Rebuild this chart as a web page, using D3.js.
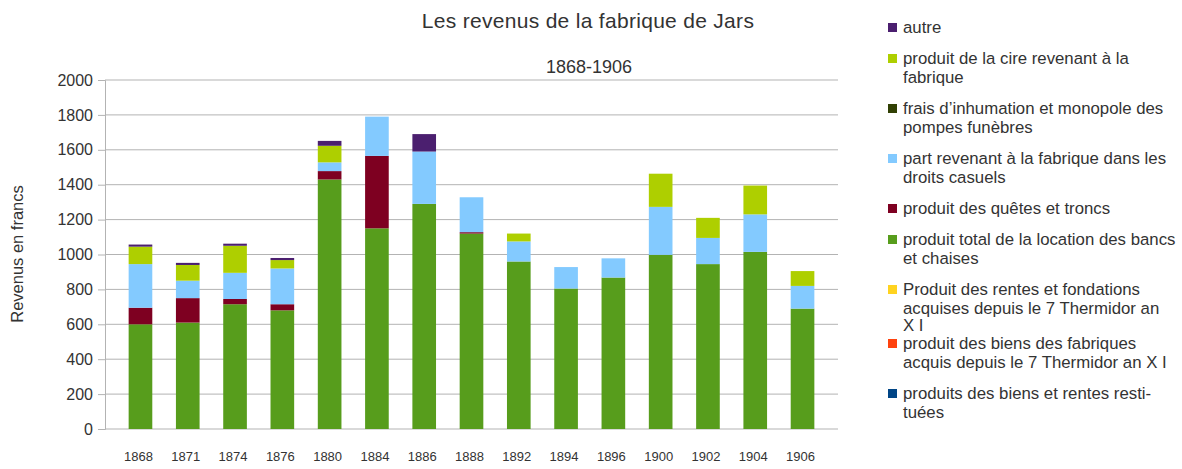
<!DOCTYPE html>
<html>
<head>
<meta charset="utf-8">
<script src="https://cdn.jsdelivr.net/npm/d3@7"></script>
<style>
  body { margin: 0; background: #fff; }
  text { font-family: "Liberation Sans", Arial, sans-serif; fill: #333; }
</style>
</head>
<body>
<svg id="chart"></svg>
<script>
const width = 1182, height = 469;

// data
const years = ["1868","1871","1874","1876","1880","1884","1886","1888","1892","1894","1896","1900","1902","1904","1906"];
const restituees  = [0,0,0,0,0,0,0,0,0,0,0,0,0,0,0];
const biensFabr   = [0,0,0,0,0,0,0,0,0,0,0,0,0,0,0];
const rentes      = [0,0,0,0,0,0,0,0,0,0,0,0,0,0,0];
const bancs       = [600,610,715,680,1430,1150,1290,1120,960,805,868,998,945,1015,690];
const quetes      = [95,140,30,35,48,415,0,8,0,0,0,0,0,0,0];
const casuel      = [250,100,150,205,50,225,300,200,115,123,110,275,150,215,130];
const inhumation  = [0,0,0,0,0,0,0,0,0,0,0,0,0,0,0];
const cire        = [100,90,155,48,95,0,0,0,45,0,0,190,115,165,85];
const autre       = [12,12,12,12,28,0,100,0,0,0,0,0,0,0,0];
const yTicks = [0,200,400,600,800,1000,1200,1400,1600,1800,2000];

const keys = ["restituees","biensFabr","rentes","bancs","quetes","casuel","inhumation","cire","autre"];
const series = {restituees, biensFabr, rentes, bancs, quetes, casuel, inhumation, cire, autre};
const labels = {
  autre: ["autre"],
  cire: ["produit de la cire revenant à la", "fabrique"],
  inhumation: ["frais d’inhumation et monopole des", "pompes funèbres"],
  casuel: ["part revenant à la fabrique dans les", "droits casuels"],
  quetes: ["produit des quêtes et troncs"],
  bancs: ["produit total de la location des bancs", "et chaises"],
  rentes: ["Produit des rentes et fondations", "acquises depuis le 7 Thermidor an", "X I"],
  biensFabr: ["produit des biens des fabriques", "acquis depuis le 7 Thermidor an X I"],
  restituees: ["produits des biens et rentes resti-", "tuées"]
};
const colors = d3.scaleOrdinal()
  .domain(keys)
  .range(["#004586","#ff420e","#ffd320","#579d1c","#7e0021","#83caff","#314004","#aecf00","#4b1f6f"]);

const table = years.map((y, i) => {
  const row = {year: y};
  keys.forEach(k => row[k] = series[k][i]);
  return row;
});

const svg = d3.select("#chart").attr("width", width).attr("height", height);
svg.append("rect").attr("width", width).attr("height", height).attr("fill", "#fff");

const margin = {left: 105, right: 344, top: 80, bottom: 40};
const x = d3.scaleBand().domain(years).range([margin.left, width - margin.right]).padding(0.5);
const y = d3.scaleLinear().domain([0, 2000]).range([height - margin.bottom, margin.top]);

// grid
svg.append("g")
  .selectAll("line")
  .data(yTicks)
  .join("line")
  .attr("x1", margin.left).attr("x2", width - margin.right)
  .attr("y1", d => y(d)).attr("y2", d => y(d))
  .attr("stroke", "#b3b3b3").attr("stroke-width", 1);

// bars
const stacked = d3.stack().keys(keys)(table);
svg.append("g")
  .selectAll("g")
  .data(stacked)
  .join("g")
  .attr("fill", d => colors(d.key))
  .selectAll("rect")
  .data(d => d.filter(s => s[1] > s[0]))
  .join("rect")
  .attr("x", d => x(d.data.year))
  .attr("width", x.bandwidth())
  .attr("y", d => y(d[1]))
  .attr("height", d => y(d[0]) - y(d[1]));

// y axis
const yAxis = svg.append("g")
  .attr("transform", `translate(${margin.left},0)`)
  .call(d3.axisLeft(y).tickValues(yTicks).tickFormat(d3.format("d")).tickSize(7).tickPadding(5));
yAxis.select(".domain").attr("stroke", "#b3b3b3");
yAxis.selectAll(".tick line").attr("stroke", "#b3b3b3");
yAxis.selectAll(".tick text").attr("font-size", 16).attr("fill", "#333")
  .attr("font-family", "Liberation Sans, Arial, sans-serif");

// x labels
svg.append("g")
  .selectAll("text")
  .data(years)
  .join("text")
  .attr("x", d => x(d) + x.bandwidth() / 2 - 2)
  .attr("y", 461)
  .attr("text-anchor", "middle")
  .attr("font-size", 13)
  .text(d => d);

// titles
svg.append("text").attr("x", 588).attr("y", 28).attr("text-anchor", "middle")
  .attr("font-size", 21).attr("letter-spacing", 0.3).text("Les revenus de la fabrique de Jars");
svg.append("text").attr("x", 589).attr("y", 73).attr("text-anchor", "middle")
  .attr("font-size", 18).text("1868-1906");
svg.append("text")
  .attr("transform", "translate(23,254) rotate(-90)")
  .attr("text-anchor", "middle")
  .attr("font-size", 16.5)
  .text("Revenus en francs");

// legend (top to bottom, reverse of stacking)
const legendKeys = keys.slice().reverse();
let rowY = 27;
const legendRows = legendKeys.map(k => {
  const r = {key: k, y: rowY};
  const n = labels[k].length;
  rowY += n == 1 ? 31 : (n == 2 ? 50 : 54);
  return r;
});
const legend = svg.append("g").attr("transform", "translate(888,0)");
const item = legend.selectAll("g")
  .data(legendRows)
  .join("g")
  .attr("transform", d => `translate(0,${d.y})`);
item.append("rect")
  .attr("x", 0).attr("y", -4).attr("width", 9).attr("height", 9)
  .attr("fill", d => colors(d.key));
item.append("text")
  .attr("x", 15)
  .attr("font-size", 16.8)
  .selectAll("tspan")
  .data(d => labels[d.key])
  .join("tspan")
  .attr("x", 15)
  .attr("y", (d, i) => 6 + i * 19 - (i == 2 ? 2 : 0))
  .text(d => d);
</script>
</body>
</html>
